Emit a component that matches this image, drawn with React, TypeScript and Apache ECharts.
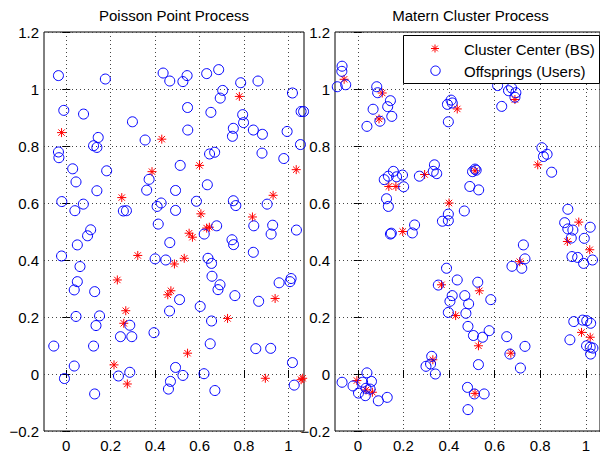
import React, { useEffect, useRef } from 'react';
import * as echarts from 'echarts';

const xTicks = [0, 0.2, 0.4, 0.6, 0.8, 1];
const yMin = -0.2;
const yMax = 1.2;
const yStep = 0.2;

const titles = ['Poisson Point Process', 'Matern Cluster Process'];
const legendNames = ['Cluster Center (BS)', 'Offsprings (Users)'];

const poissonCenters: [number, number][] = [
  [-0.021, 0.847], [0.43, 0.824], [0.386, 0.71], [0.25, 0.619], [0.6, 0.732], [0.606, 0.562],
  [0.779, 0.974], [0.931, 0.627], [0.838, 0.551], [1.035, 0.717], [0.553, 0.494], [0.568, 0.48],
  [0.644, 0.515], [0.632, 0.512], [0.322, 0.416], [0.487, 0.386], [0.531, 0.406], [0.23, 0.33],
  [0.268, 0.222], [0.259, 0.178], [0.471, 0.292], [0.457, 0.278], [0.726, 0.195], [0.94, 0.265],
  [0.546, 0.073], [0.215, 0.032], [0.275, -0.035], [0.896, -0.015], [1.057, -0.02], [1.064, -0.015],
];

const poissonUsers: [number, number][] = [
  [-0.035, 1.047], [-0.011, 0.925], [0.078, 0.912], [0.176, 1.035], [-0.035, 0.779], [-0.033, 0.759],
  [0.029, 0.72], [0.044, 0.674], [0.123, 0.801], [0.138, 0.795], [0.144, 0.83], [0.182, 0.713],
  [-0.02, 0.605], [0.039, 0.573], [0.077, 0.596], [0.138, 0.643], [0.11, 0.506], [0.298, 0.885],
  [0.355, 0.821], [0.373, 0.683], [0.362, 0.645], [0.257, 0.572], [0.271, 0.573], [0.409, 0.588],
  [0.427, 0.6], [0.414, 0.526], [0.436, 1.056], [0.466, 1.028], [0.525, 1.026], [0.544, 1.047],
  [0.546, 0.935], [0.547, 0.856], [0.513, 0.732], [0.492, 0.644], [0.492, 0.574], [0.632, 1.054],
  [0.686, 1.068], [0.704, 0.995], [0.693, 0.968], [0.651, 0.918], [0.645, 0.772], [0.668, 0.778],
  [0.635, 0.664], [0.586, 0.606], [0.677, 0.52], [0.785, 1.022], [0.863, 1.028], [0.794, 0.91],
  [0.798, 0.882], [0.752, 0.862], [0.748, 0.834], [0.842, 0.856], [0.883, 0.841], [0.881, 0.775],
  [0.752, 0.608], [0.763, 0.591], [0.904, 0.596], [0.844, 0.52], [0.929, 0.522], [1.018, 0.986],
  [0.994, 0.851], [0.979, 0.756], [1.057, 0.921], [1.068, 0.921], [1.054, 0.805], [1.036, 0.505],
  [0.096, 0.485], [0.05, 0.453], [-0.021, 0.414], [0.062, 0.377], [0.05, 0.324], [0.036, 0.295],
  [0.128, 0.289], [0.044, 0.202], [0.15, 0.204], [0.134, 0.17], [-0.056, 0.098], [0.123, 0.098],
  [0.036, 0.028], [-0.008, -0.016], [0.128, -0.07], [0.244, 0.131], [0.286, 0.171], [0.295, 0.131],
  [0.235, -0.007], [0.286, 0.006], [0.4, 0.404], [0.448, 0.4], [0.466, 0.461], [0.465, 0.221],
  [0.51, 0.261], [0.395, 0.145], [0.492, 0.023], [0.525, -0.005], [0.469, -0.026], [0.46, -0.053],
  [0.62, 0.001], [0.669, -0.058], [0.603, 0.237], [0.654, 0.186], [0.648, 0.106], [0.621, 0.491],
  [0.638, 0.406], [0.654, 0.388], [0.656, 0.343], [0.692, 0.313], [0.683, 0.296], [0.746, 0.471],
  [0.753, 0.454], [0.759, 0.275], [0.922, 0.491], [0.842, 0.427], [0.866, 0.255], [0.958, 0.32],
  [1.007, 0.324], [1.012, 0.335], [0.853, 0.089], [0.92, 0.09], [1.018, 0.04], [1.026, -0.039],
];

const maternCenters: [number, number][] = [
  [-0.06, 1.034], [0.107, 0.986], [0.093, 0.895], [0.436, 0.93], [0.689, 0.963], [0.789, 0.734],
  [0.136, 0.658], [0.167, 0.658], [0.293, 0.7], [0.514, 0.713], [0.4, 0.6], [0.969, 0.533],
  [0.197, 0.5], [0.367, 0.313], [0.429, 0.205], [0.533, 0.292], [0.529, 0.099], [0.329, 0.05],
  [0.514, -0.068], [0.671, 0.073], [0.71, 0.394], [-0.004, -0.023], [0.036, -0.056], [0.064, -0.064],
  [0.919, 0.465], [1.017, 0.436], [0.981, 0.146], [1.019, 0.129],
];

const maternUsers: [number, number][] = [
  [-0.069, 1.08], [-0.07, 1.062], [-0.053, 1.015], [-0.09, 1.008], [0.083, 1.008], [0.087, 0.987],
  [0.143, 0.959], [0.067, 0.929], [0.131, 0.938], [0.149, 0.904], [0.04, 0.869], [0.097, 0.887],
  [0.393, 0.946], [0.409, 0.961], [0.414, 0.951], [0.397, 0.885], [0.613, 1.012], [0.631, 0.939],
  [0.661, 0.994], [0.674, 1.004], [0.693, 0.987], [0.689, 0.971], [0.807, 0.794], [0.814, 0.763],
  [0.83, 0.771], [0.85, 0.708], [0.116, 0.682], [0.134, 0.694], [0.156, 0.711], [0.17, 0.692],
  [0.196, 0.698], [0.201, 0.657], [0.126, 0.615], [0.134, 0.588], [0.27, 0.694], [0.336, 0.734],
  [0.331, 0.711], [0.346, 0.703], [0.503, 0.71], [0.514, 0.719], [0.519, 0.715], [0.491, 0.658],
  [0.53, 0.646], [0.397, 0.561], [0.397, 0.538], [0.371, 0.536], [0.467, 0.572], [0.249, 0.523],
  [0.921, 0.578], [0.143, 0.491], [0.147, 0.494], [0.239, 0.495], [0.389, 0.371], [0.353, 0.312],
  [0.436, 0.33], [0.414, 0.275], [0.404, 0.255], [0.397, 0.216], [0.469, 0.275], [0.486, 0.246],
  [0.474, 0.213], [0.526, 0.322], [0.583, 0.261], [0.483, 0.167], [0.507, 0.135], [0.547, 0.129],
  [0.576, 0.152], [0.529, 0.033], [0.481, -0.047], [0.511, -0.07], [0.554, -0.07], [0.483, -0.125],
  [0.653, 0.131], [0.667, 0.07], [0.733, 0.097], [0.713, 0.021], [0.676, 0.378], [0.719, 0.371],
  [0.733, 0.404], [0.726, 0.453], [0.324, 0.062], [0.319, 0.035], [0.299, 0.027], [0.34, 0.0],
  [-0.069, -0.029], [-0.021, -0.042], [0.021, -0.029], [0.04, 0.004], [0.06, -0.026], [0.003, -0.067],
  [0.036, -0.05], [0.054, -0.053], [0.033, -0.076], [0.09, -0.094], [0.129, -0.082], [0.907, 0.531],
  [0.921, 0.509], [0.943, 0.505], [0.993, 0.476], [1.019, 0.515], [0.936, 0.477], [0.939, 0.412],
  [0.964, 0.409], [0.99, 0.388], [1.029, 0.4], [0.947, 0.184], [0.986, 0.189], [1.004, 0.187],
  [1.021, 0.178], [0.93, 0.12], [1.003, 0.099], [1.019, 0.094], [1.031, 0.091], [1.021, 0.07],
];

const FONT = '"Liberation Sans", Arial, Helvetica, sans-serif';
const STAR = 'path://M0,-5L0,5M-5,0L5,0M-3.54,-3.54L3.54,3.54M-3.54,3.54L3.54,-3.54';
const RED = '#ff0000';
const BLUE = '#0000ff';

const panels = [
  { left: 44, top: 32, width: 260, height: 399, xMin: -0.1, xMax: 1.07, centers: poissonCenters, users: poissonUsers },
  { left: 335, top: 32, width: 271, height: 399, xMin: -0.1, xMax: 1.062, centers: maternCenters, users: maternUsers },
];

const fmt = (v: number) => String(Math.round(v * 10) / 10).replace('-', '\u2212');

function starLines(cx: number, cy: number, r: number) {
  const d = r * Math.SQRT1_2;
  const segs = [
    [0, -r, 0, r], [-r, 0, r, 0], [-d, -d, d, d], [-d, d, d, -d],
  ];
  return segs.map((s) => ({
    type: 'line', z: 31,
    shape: { x1: cx + s[0], y1: cy + s[1], x2: cx + s[2], y2: cy + s[3] },
    style: { stroke: RED, lineWidth: 1 },
  }));
}

export default function App() {
  const ref = useRef<HTMLDivElement>(null);
  useEffect(() => {
    if (!ref.current) return;
    const chart = echarts.init(ref.current, undefined, { renderer: 'svg' });
    const grid: any[] = [];
    const xAxis: any[] = [];
    const yAxis: any[] = [];
    const series: any[] = [];
    const graphic: any[] = [];
    const tickStyle = { color: '#000', width: 1 };
    const labelStyle = { fontSize: 15, color: '#000', fontFamily: FONT };
    const gridLine = { show: true, lineStyle: { color: '#444', width: 1, type: [1, 3] } };
    panels.forEach((p, i) => {
      grid.push({ left: p.left, top: p.top, width: p.width, height: p.height, show: true, borderColor: '#000', borderWidth: 1, backgroundColor: '#fff' });
      graphic.push({
        type: 'text', x: p.left + p.width / 2, y: 15.5, z: 10,
        style: { text: titles[i], textAlign: 'center', textVerticalAlign: 'middle', fontSize: 15, fontFamily: FONT, fill: '#000' },
      });
    });
    panels.forEach((p, i) => {
      xAxis.push({
        type: 'value', gridIndex: i, min: p.xMin, max: p.xMax, position: 'bottom',
        axisLine: { show: false },
        axisTick: { show: true, inside: true, length: 4, customValues: xTicks, lineStyle: tickStyle },
        axisLabel: { show: true, customValues: xTicks, margin: 7, ...labelStyle, formatter: (v: number) => fmt(v) },
        splitLine: gridLine,
      });
      yAxis.push({
        type: 'value', gridIndex: i, min: yMin, max: yMax, interval: yStep, position: 'left',
        axisLine: { show: false },
        axisTick: { show: true, inside: true, length: 4, lineStyle: tickStyle },
        axisLabel: { show: true, margin: 5, ...labelStyle, formatter: (v: number) => fmt(v) },
        splitLine: gridLine,
      });
    });
    panels.forEach((p, i) => {
      xAxis.push({
        type: 'value', gridIndex: i, min: p.xMin, max: p.xMax, position: 'top',
        axisLine: { show: false },
        axisTick: { show: true, inside: true, length: 4, customValues: xTicks, lineStyle: tickStyle },
        axisLabel: { show: false }, splitLine: { show: false },
      });
      yAxis.push({
        type: 'value', gridIndex: i, min: yMin, max: yMax, interval: yStep, position: 'right',
        axisLine: { show: false },
        axisTick: { show: true, inside: true, length: 4, lineStyle: tickStyle },
        axisLabel: { show: false }, splitLine: { show: false },
      });
    });
    panels.forEach((p, i) => {
      series.push({
        type: 'scatter', name: legendNames[0], xAxisIndex: i, yAxisIndex: i, clip: false,
        symbol: STAR, symbolSize: 9, data: p.centers,
        itemStyle: { color: 'none', borderColor: RED, borderWidth: 1, opacity: 1 },
        emphasis: { disabled: true },
      });
      series.push({
        type: 'scatter', name: legendNames[1], xAxisIndex: i, yAxisIndex: i, clip: false,
        symbol: 'circle', symbolSize: 10, data: p.users,
        itemStyle: { color: 'none', borderColor: BLUE, borderWidth: 1, opacity: 1 },
        emphasis: { disabled: true },
      });
    });
    // legend box (MATLAB style)
    graphic.push({
      type: 'rect', z: 30,
      shape: { x: 403.5, y: 35.5, width: 196, height: 48 },
      style: { fill: '#fff', stroke: '#000', lineWidth: 1 },
    });
    graphic.push(...starLines(435, 48.5, 4));
    graphic.push({
      type: 'circle', z: 31,
      shape: { cx: 435.5, cy: 70.7, r: 4.7 },
      style: { fill: 'none', stroke: BLUE, lineWidth: 1 },
    });
    graphic.push({
      type: 'text', z: 31, x: 464, y: 49,
      style: { text: legendNames[0], textVerticalAlign: 'middle', fontSize: 15, fontFamily: FONT, fill: '#000' },
    });
    graphic.push({
      type: 'text', z: 31, x: 464, y: 71.5,
      style: { text: legendNames[1], textVerticalAlign: 'middle', fontSize: 15, fontFamily: FONT, fill: '#000' },
    });
    chart.setOption({
      animation: false,
      backgroundColor: '#fff',
      grid, xAxis, yAxis, series, graphic,
    });
    return () => chart.dispose();
  }, []);
  return <div ref={ref} style={{ width: 600, height: 453, position: 'absolute', left: 0, top: 0 }} />;
}
